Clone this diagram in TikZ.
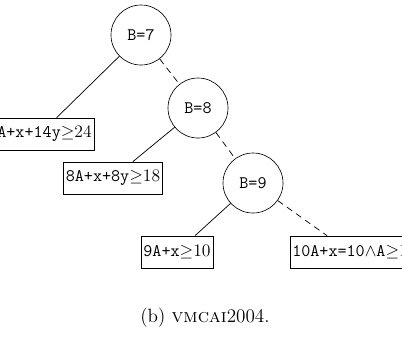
\documentclass[tikz,border=0pt]{standalone}
\begin{document}
\begin{tikzpicture}[x=0.625pt,y=-0.625pt,
  bnode/.style={draw,circle,minimum size=37.5pt,inner sep=0pt,font=\fontsize{11}{13}\selectfont\ttfamily},
  leaf/.style={draw,rectangle,inner xsep=1.5pt,inner ysep=3pt,minimum height=20pt,font=\fontsize{11}{13}\selectfont\ttfamily},
  solidedge/.style={draw,line width=0.45pt},
  dashededge/.style={draw,line width=0.45pt,dash pattern=on 4pt off 3pt}]
\useasboundingbox (0,0) rectangle (402,336);
\node[bnode] (b7) at (141,35) {B=7};
\node[bnode] (b8) at (198,108) {B=8};
\node[bnode] (b9) at (253,183) {B=9};
\node[leaf] (l1) at (40,134) {7A+x+14y{\rmfamily$\geq$24}};
\node[leaf] (l2) at (113,178) {8A+x+8y{\rmfamily$\geq$18}};
\node[leaf] (l3) at (177,252) {9A+x{\rmfamily$\geq$10}};
\node[leaf] (l4) at (350,252) {10A+x=10$\wedge$A{\rmfamily$\geq$1}};
\draw[solidedge] (b7) -- (l1);
\draw[dashededge] (b7) -- (b8);
\draw[solidedge] (b8) -- (l2);
\draw[dashededge] (b8) -- (b9);
\draw[solidedge] (b9) -- (l3);
\draw[dashededge] (b9) -- (l4);
\node[font=\large\rmfamily] (cap) at (205,318) {(b) \textsc{vmcai}2004.};
\end{tikzpicture}
\end{document}
